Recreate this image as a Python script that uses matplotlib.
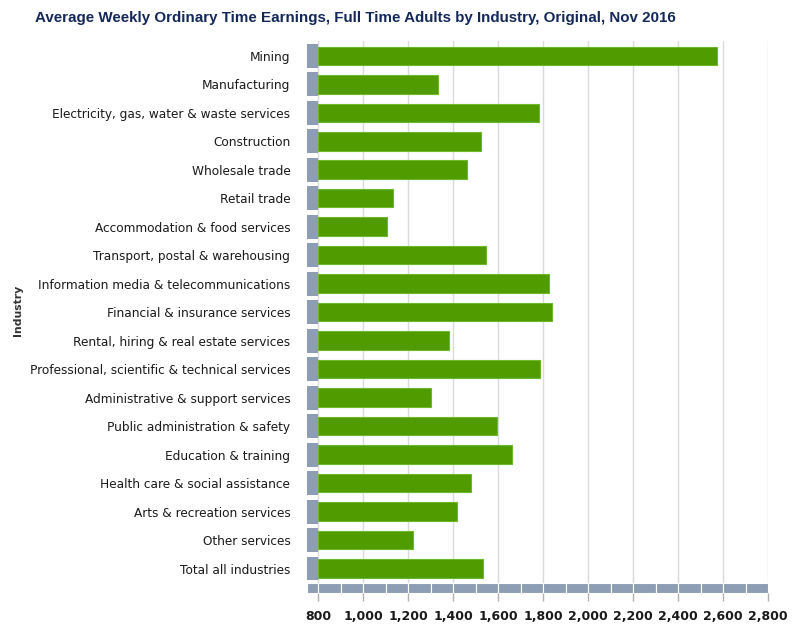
import numpy as np
import matplotlib
matplotlib.use("Agg")
import matplotlib.pyplot as plt

# data (AUD per week)
industries = [
    "Mining",
    "Manufacturing",
    "Electricity, gas, water & waste services",
    "Construction",
    "Wholesale trade",
    "Retail trade",
    "Accommodation & food services",
    "Transport, postal & warehousing",
    "Information media & telecommunications",
    "Financial & insurance services",
    "Rental, hiring & real estate services",
    "Professional, scientific & technical services",
    "Administrative & support services",
    "Public administration & safety",
    "Education & training",
    "Health care & social assistance",
    "Arts & recreation services",
    "Other services",
    "Total all industries",
]
earnings = [2575, 1332, 1784, 1524, 1462, 1132, 1105, 1545, 1828, 1841,
            1382, 1787, 1304, 1596, 1662, 1479, 1418, 1221, 1532]
x_ticks = np.arange(800, 2801, 200)

GREEN = "#4f9b00"
GREEN_EDGE = "#6db82a"
STRIP = "#8d9db3"
GRID = "#dadada"
NAVY = "#14285a"
TEXT = "#1a1a1a"

BASE = 800
X_MIN = 751

fig = plt.figure(figsize=(8, 6.32), dpi=100)
ax = fig.add_axes([307 / 800, 1 - 593.3 / 632, 461 / 800, 552.3 / 632])

y = np.arange(len(industries))

# grey "3d" strip at the base of each bar
ax.barh(y, BASE - X_MIN - 1, left=X_MIN, height=0.84, color=STRIP,
        edgecolor="none", zorder=3)
# bars
ax.barh(y, np.array(earnings) - BASE, left=BASE, height=0.65, color=GREEN,
        edgecolor=GREEN_EDGE, linewidth=0.8, zorder=3)

# segmented floor strip along the value axis
seg_left = np.concatenate([[X_MIN], np.arange(BASE, 2800, 100)])
seg_width = np.diff(np.concatenate([seg_left, [2800]]))
ax.barh(len(industries) - 1 + 0.685, seg_width, left=seg_left, height=0.37,
        color=STRIP, edgecolor="white", linewidth=0.8, zorder=3)

ax.set_xlim(X_MIN, 2800)
ax.set_ylim(len(industries) - 1 + 0.87, -0.52)
ax.set_xticks(x_ticks)
ax.set_xticklabels([f"{v:,}" for v in x_ticks])
ax.set_yticks(y)
ax.set_yticklabels(industries)

ax.grid(axis="x", color=GRID, linewidth=1.0, zorder=0)
ax.set_axisbelow(True)
for sp in ax.spines.values():
    sp.set_visible(False)

ax.tick_params(axis="y", length=0, pad=12, labelsize=8.7, labelcolor=TEXT)
ax.tick_params(axis="x", length=6, width=1, color="#b0b0b0", pad=6,
               labelsize=9, labelcolor=TEXT)
for lab in ax.get_xticklabels():
    lab.set_fontweight("bold")

fig.text(35 / 800, 1 - 18 / 632,
         "Average Weekly Ordinary Time Earnings, Full Time Adults by Industry, Original, Nov 2016",
         ha="left", va="center", fontsize=10.9, fontweight="bold", color=NAVY,
         family=["Liberation Sans", "DejaVu Sans"])
fig.text(18 / 800, 1 - 310 / 632, "Industry", rotation=90, ha="center",
         va="center", fontsize=7.8, fontweight="bold", color="#333333")

fig.savefig("out.png", dpi=100, facecolor="white")
